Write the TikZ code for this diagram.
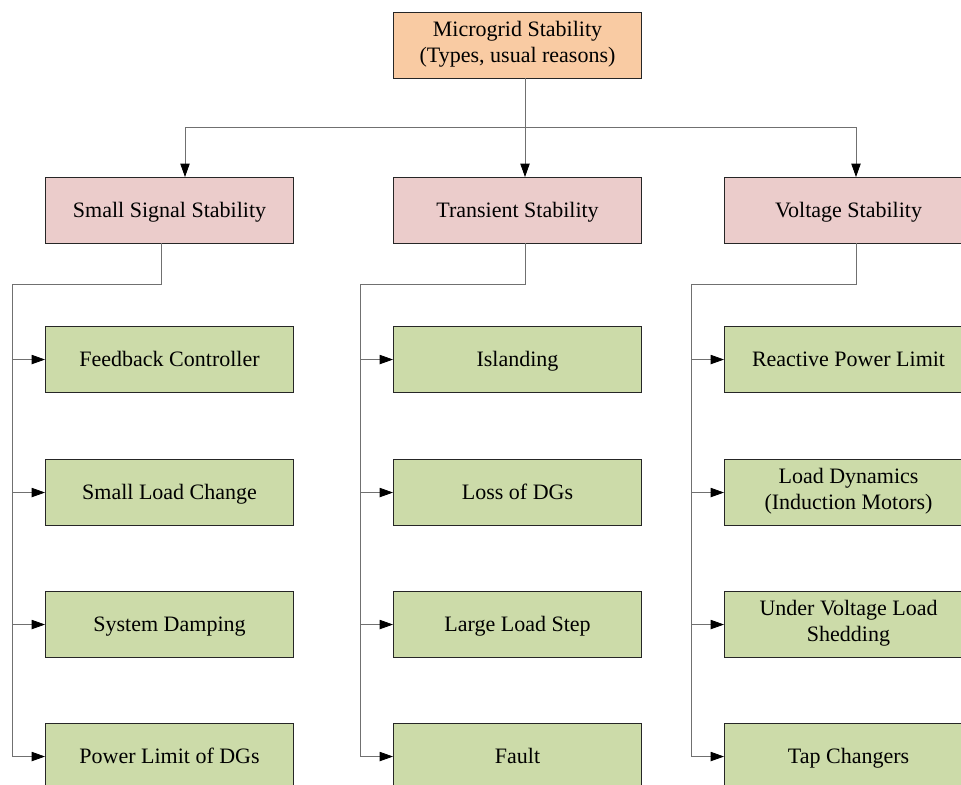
\documentclass[tikz,border=0pt]{standalone}
\usepackage{fontspec}
\setmainfont{Liberation Serif}
\usetikzlibrary{arrows.meta}
\definecolor{rootfill}{HTML}{F9CBA3}
\definecolor{typefill}{HTML}{EBCCCB}
\definecolor{causefill}{HTML}{CCDBA9}
\definecolor{wire}{HTML}{707070}
% strut with extra height so labels sit a little low in the box
\newcommand{\boxstrut}{\rule[-5.85pt]{0pt}{22.5pt}}
\tikzset{
  box/.style={draw=black!85, line width=0.8pt, minimum width=186pt, minimum height=49.5pt,
    inner sep=0pt, align=center, font=\fontsize{16.5}{19.5}\selectfont, anchor=north west,
    execute at begin node=\boxstrut},
  rootbox/.style={box, fill=rootfill},
  typebox/.style={box, fill=typefill},
  causebox/.style={box, fill=causefill},
  link/.style={draw=wire, line width=0.6pt},
  arr/.style={link, -{Triangle[length=10pt,width=7pt,color=black]}}
}
\begin{document}
\begin{tikzpicture}[x=0.75pt,y=-0.75pt]
\useasboundingbox (0,0) rectangle (961,785);
\clip (0,0) rectangle (961,785);
% root
\node[rootbox] (root) at (393,12) {Microgrid Stability\\(Types, usual reasons)};
% stability types
\node[typebox] (ss) at (45,177) {Small Signal Stability};
\node[typebox] (ts) at (393,177) {Transient Stability};
\node[typebox] (vs) at (724,177) {Voltage Stability};
% causes
\node[causebox] (s1) at (45,326) {Feedback Controller};
\node[causebox] (s2) at (45,459) {Small Load Change};
\node[causebox] (s3) at (45,591) {System Damping};
\node[causebox] (s4) at (45,723) {Power Limit of DGs};
\node[causebox] (t1) at (393,326) {Islanding};
\node[causebox] (t2) at (393,459) {Loss of DGs};
\node[causebox] (t3) at (393,591) {Large Load Step};
\node[causebox] (t4) at (393,723) {Fault};
\node[causebox] (v1) at (724,326) {Reactive Power Limit};
\node[causebox] (v2) at (724,459) {Load Dynamics\\(Induction Motors)};
\node[causebox] (v3) at (724,591) {Under Voltage Load\\Shedding};
\node[causebox] (v4) at (724,723) {Tap Changers};
% root to types
\coordinate (rootout) at (525,78);
\coordinate (tsin) at (525,177);
\coordinate (ssin) at (185,177);
\coordinate (vsin) at (856,177);
\draw[arr] (rootout) -- (tsin);
\draw[link] (ssin |- 0,127) -- (vsin |- 0,127);
\draw[arr] (ssin |- 0,127) -- (ssin);
\draw[arr] (vsin |- 0,127) -- (vsin);
% types to causes
\foreach \t/\px/\rx/\c in {ss/161/12/s, ts/525/360/t, vs/856/691/v}{
  \draw[link] (\px,243) -- (\px,284) -- (\rx,284) -- (\rx,756);
  \foreach \i in {1,...,4}{
    \draw[arr] (\rx,0 |- \c\i.west) -- (\c\i.west);
  }
}
\end{tikzpicture}
\end{document}
